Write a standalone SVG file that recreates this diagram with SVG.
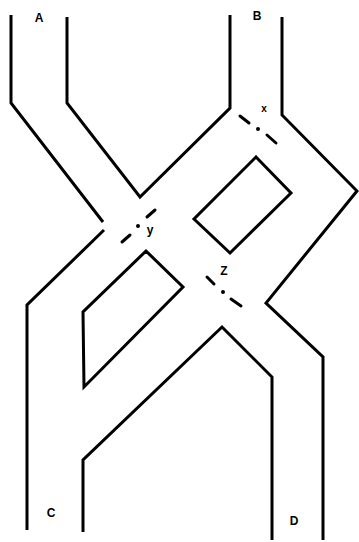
<svg xmlns="http://www.w3.org/2000/svg" width="359" height="542" viewBox="0 0 359 542">
<style>
.w{fill:none;stroke:#000;stroke-width:3;stroke-linejoin:miter}
.d{fill:none;stroke:#000;stroke-width:3;stroke-linecap:round}
.t{font-family:"Liberation Sans",Arial,sans-serif;font-size:12px;font-weight:bold;fill:#000;text-anchor:middle}
</style>
<rect width="359" height="542" fill="#fff"/>
<g id="walls">
<polyline class="w" points="11,15 11,103 103,222"/>
<polyline class="w" points="67,17 67,103 140,197 230,108 230,15"/>
<polyline class="w" points="282,17 282,115 357,191 266,303 323,357 323,540"/>
<polyline class="w" points="104,230 27,305 27,530"/>
<polyline class="w" points="83,532 83,460 222,327 272,377 272,540"/>
<polygon class="w" points="146,251 183,287 84,387 83,312"/>
<polygon class="w" points="256,157 291,193 230,253 194,219" stroke-linejoin="round"/>
</g>
<g id="x">
<line class="d" x1="240" y1="116" x2="249" y2="123"/>
<circle cx="258" cy="129" r="2"/>
<line class="d" x1="267" y1="135" x2="276" y2="143"/>
<text class="t" x="264" y="112" style="font-size:10px">x</text>
</g>
<g id="y">
<line class="d" x1="147" y1="217" x2="155" y2="210"/>
<circle cx="138" cy="226" r="2"/>
<line class="d" x1="122" y1="242" x2="130" y2="235"/>
<text class="t" x="150" y="234">y</text>
</g>
<g id="z">
<line class="d" x1="207" y1="277" x2="214" y2="284"/>
<circle cx="223" cy="292" r="2"/>
<line class="d" x1="231" y1="299" x2="241" y2="306"/>
<text class="t" x="224" y="275">Z</text>
</g>
<g id="labels">
<text class="t" x="39" y="22">A</text>
<text class="t" x="257" y="20">B</text>
<text class="t" x="51" y="517">C</text>
<text class="t" x="294" y="525">D</text>
</g>
</svg>
